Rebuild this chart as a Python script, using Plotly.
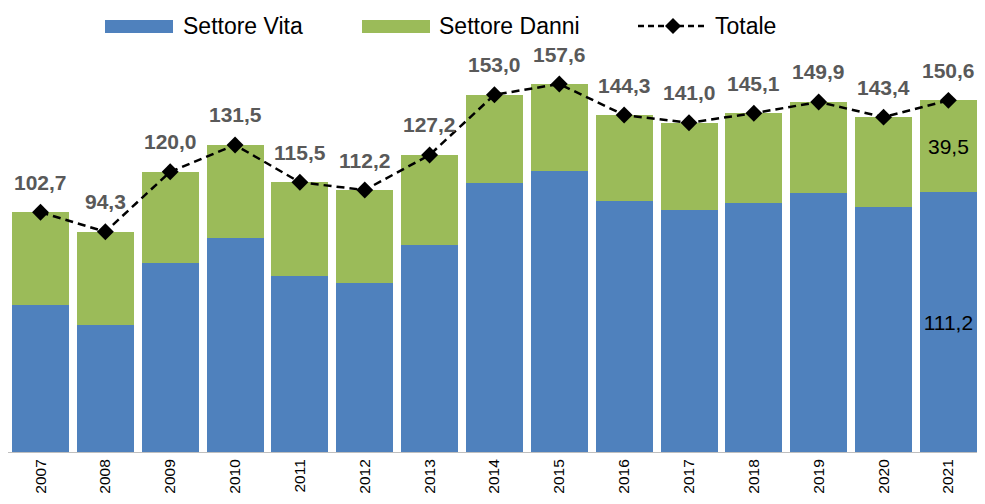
import plotly.graph_objects as go

years = ["2007", "2008", "2009", "2010", "2011", "2012", "2013", "2014",
         "2015", "2016", "2017", "2018", "2019", "2020", "2021"]
vita = [63.1, 54.6, 80.9, 91.8, 75.4, 72.5, 88.7, 115.4, 120.5, 107.5,
        103.6, 106.8, 110.8, 104.8, 111.2]
danni = [39.6, 39.7, 39.1, 39.7, 40.1, 39.7, 38.5, 37.6, 37.1, 36.8,
         37.4, 38.3, 39.1, 38.6, 39.5]
totale = [102.7, 94.3, 120.0, 131.5, 115.5, 112.2, 127.2, 153.0, 157.6,
          144.3, 141.0, 145.1, 149.9, 143.4, 150.6]

BLUE = "#4F81BD"
GREEN = "#9BBB59"
FONT = "Liberation Sans, Arial, sans-serif"

# the page draws the figure 8px in from the top-left corner and the visible
# area ends 8px short on the right, so fit the figure inside that region
OFF = 8
W, H = 985 - 2 * OFF, 504 - 2 * OFF
ML, MR, MT, MB = 0, 0, 52, 44
PW, PH = W - ML - MR, H - MT - MB
PLOT_BOTTOM_VP = OFF + H - MB  # viewport y of the baseline

STEP = 64.85          # px per category
FIRST_CENTER = 40.5   # viewport x of first category centre
BAR_W = 57.0


def fmt(v):
    return f"{v:.1f}".replace(".", ",")


def px(x):
    return (x - OFF - ML) / PW


def py(y):
    return (PLOT_BOTTOM_VP - y) / PH


x_lo = (OFF + ML - FIRST_CENTER) / STEP
x_hi = (OFF + ML + PW - FIRST_CENTER) / STEP

vita_text = ["" for _ in years]
danni_text = ["" for _ in years]
vita_text[-1] = fmt(vita[-1])
danni_text[-1] = fmt(danni[-1])

fig = go.Figure()
fig.add_trace(go.Bar(x=years, y=vita, name="Settore Vita", marker_color=BLUE,
                     marker_line_width=0, text=vita_text, textposition="inside",
                     insidetextanchor="middle",
                     textfont=dict(size=21, color="black", family=FONT),
                     showlegend=False))
fig.add_trace(go.Bar(x=years, y=danni, name="Settore Danni", marker_color=GREEN,
                     marker_line_width=0, text=danni_text, textposition="inside",
                     insidetextanchor="middle",
                     textfont=dict(size=21, color="black", family=FONT),
                     showlegend=False))
fig.add_trace(go.Scatter(x=years, y=totale, name="Totale", mode="lines+markers",
                         line=dict(color="black", width=2.5, dash="8px,5px"),
                         marker=dict(symbol="diamond", size=13, color="black"),
                         showlegend=False))

for i, t in enumerate(totale):
    fig.add_annotation(x=i, y=t, xref="x", yref="y", text=f"<b>{fmt(t)}</b>",
                       showarrow=False, yshift=30, xanchor="center", yanchor="middle",
                       font=dict(size=21, color="#595959", family=FONT))

# manual legend
shapes = []
shapes.append(dict(type="rect", xref="paper", yref="paper", x0=px(105), x1=px(173),
                   y0=py(33), y1=py(20), fillcolor=BLUE, line_width=0))
shapes.append(dict(type="rect", xref="paper", yref="paper", x0=px(362), x1=px(430),
                   y0=py(33), y1=py(20), fillcolor=GREEN, line_width=0))
shapes.append(dict(type="line", xref="paper", yref="paper", x0=px(638), x1=px(708),
                   y0=py(26), y1=py(26), line=dict(color="black", width=2.5, dash="6px,4px")))
cx, cy, r = 673, 26, 8
shapes.append(dict(type="path", xref="paper", yref="paper",
                   path=f"M {px(cx-r)} {py(cy)} L {px(cx)} {py(cy-r)} L {px(cx+r)} {py(cy)} L {px(cx)} {py(cy+r)} Z",
                   fillcolor="black", line_width=0))
fig.update_layout(shapes=shapes)
for label, x0 in [("Settore Vita", 181), ("Settore Danni", 437), ("Totale", 713)]:
    fig.add_annotation(xref="paper", yref="paper", x=px(x0), y=py(26), text=label,
                       showarrow=False, xanchor="left", yanchor="middle",
                       font=dict(size=23, color="black", family=FONT))

fig.update_layout(
    width=W, height=H,
    margin=dict(l=ML, r=MR, t=MT, b=MB, autoexpand=False),
    barmode="stack", bargap=1 - BAR_W / STEP,
    plot_bgcolor="white", paper_bgcolor="white",
    font=dict(family=FONT),
    xaxis=dict(type="category", range=[x_lo, x_hi], tickangle=-90,
               tickfont=dict(size=15.5, color="black", family=FONT),
               showline=True, linecolor="#BFBFBF", linewidth=1, ticks="",
               ticklabelstandoff=0, showgrid=False, automargin=False),
    yaxis=dict(range=[0, PH / 2.335], visible=False, showgrid=False),
)

fig.write_html("out.html")
